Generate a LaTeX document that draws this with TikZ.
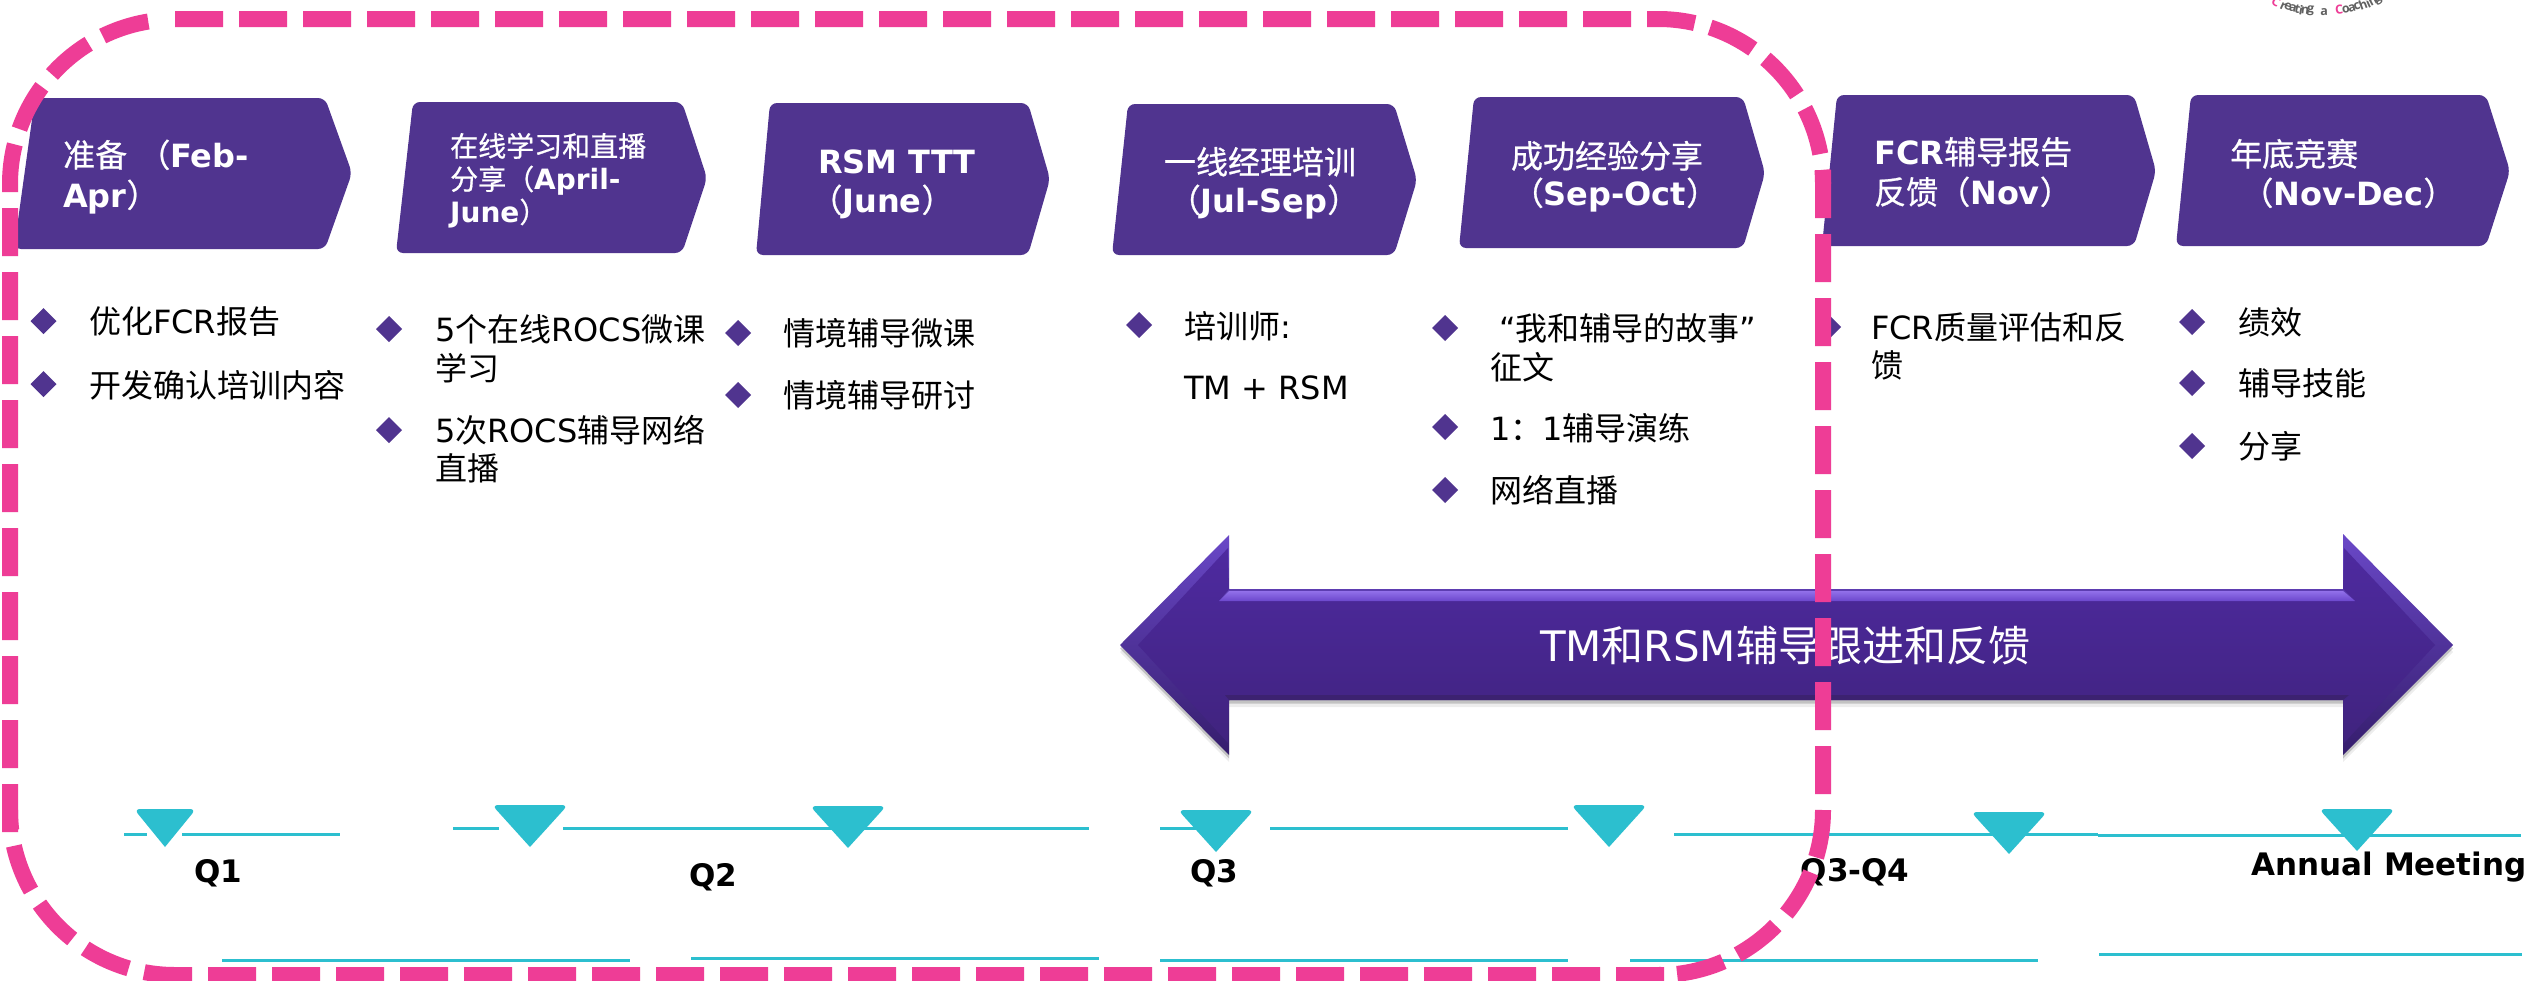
\documentclass[tikz,border=0pt]{standalone}
\usepackage{fontspec}
\setmainfont{DejaVu Sans}
\newfontfamily\cjk{Noto Sans CJK SC}
\newfontfamily\cjkhead[FakeBold=0.7]{Noto Sans CJK SC}
\newfontfamily\logofont{Open Sans}
\newcommand{\C}[1]{{\cjk\mdseries #1}}
\newcommand{\Hd}[1]{{\cjkhead\mdseries #1}}
\definecolor{boxpurple}{HTML}{50348F}
\definecolor{pinkline}{HTML}{EE3D96}
\definecolor{cyanmark}{HTML}{2CBFCF}
\definecolor{arrowtop}{HTML}{6A48C8}
\definecolor{arrowmid}{HTML}{5432A8}
\definecolor{arrowbot}{HTML}{351D6C}
\definecolor{arrowface}{HTML}{4E2AA0}
\definecolor{arrowfacem}{HTML}{4A2898}
\definecolor{arrowfaceb}{HTML}{40237E}
\definecolor{arrowhi}{HTML}{9270EA}
\definecolor{arrowhib}{HTML}{6B47CC}
\definecolor{arrowdark}{HTML}{3C2270}
\tikzset{
  boxshape/.style={fill=boxpurple,rounded corners=7pt},
  headbig/.style={inner sep=0,text=white,font=\bfseries\fontsize{32}{32}\selectfont,text height=28pt,text depth=4pt},
  headsmall/.style={inner sep=0,text=white,font=\bfseries\fontsize{28}{28}\selectfont,text height=24.6pt,text depth=3.4pt},
  bodytext/.style={inner sep=0,anchor=west,text=black,font=\fontsize{32}{32}\selectfont,text height=28pt,text depth=4pt},
  quarter/.style={inner sep=0,text=black,font=\bfseries\fontsize{31}{31}\selectfont,text height=27pt,text depth=4pt},
  bullet/.style={fill=boxpurple},
  tline/.style={draw=cyanmark,line width=3pt},
  tmark/.style={fill=cyanmark},
  pinkdash/.style={draw=pinkline,line width=16pt,dash pattern=on 48pt off 16pt},
  logoletter/.style={inner sep=0,font=\logofont\bfseries\fontsize{12.5}{12.5}\selectfont}
}
\newcommand{\dm}[2]{\fill[bullet] ({#1-13},#2) -- (#1,{#2-13}) -- ({#1+13},#2) -- (#1,{#2+13}) -- cycle;}
\newcommand{\tri}[4]{\fill[tmark] (#1,#3) [rounded corners=6pt] -- ({#1-#4},#2) -- ({#1+#4},#2) [sharp corners] -- cycle;}
\newcommand{\bigarrowpath}{(1120,645) -- (1229,535) -- (1229,589) -- (2343,589) -- (2343,534) -- (2453,645) -- (2343,755) -- (2343,700) -- (1229,700) -- (1229,755) -- cycle}
\begin{document}
\begin{tikzpicture}[x=1pt,y=-1pt]
\useasboundingbox (0,0) rectangle (2534,980);
\clip (0,0) rectangle (2534,980);
\fill[white] (0,0) rectangle (2534,980);

% logo fragment
\foreach \ch/\lx/\ly/\rot/\col [count=\n] in {
 C/2276/2/-32/pinkline, r/2283/6/-24/black!62, e/2288/7/-20/black!62, a/2293/8/-16/black!62, t/2297.5/9/-13/black!62, i/2301/10/-10/black!62, n/2305/10.5/-7/black!62, g/2310.5/11/-4/black!62,
 a/2324/12/0/black!62, C/2339/10/6/pinkline, o/2346/9.5/9/black!62, a/2352/8/13/black!62, c/2357/6.5/17/black!62, h/2363/5/21/black!62, i/2368/3.5/25/black!62, n/2373/1.5/29/black!62, g/2378/0/33/black!62}
  \node[logoletter,text=\col,rotate=\rot] (logo\n) at (\lx,\ly) {\ch};

% chevron boxes
\path[boxshape] (35,98) -- (325,98) -- (352,173) -- (325,249) -- (14,249) -- cycle;
\path[boxshape] (413,102) -- (682,102) -- (707,178) -- (682,253) -- (396,253) -- cycle;
\path[boxshape] (770,103) -- (1028,103) -- (1050,179) -- (1028,255) -- (756,255) -- cycle;
\path[boxshape] (1128,104) -- (1394,104) -- (1417,180) -- (1394,255) -- (1112,255) -- cycle;
\path[boxshape] (1474,97) -- (1743,97) -- (1765,173) -- (1743,248) -- (1459,248) -- cycle;
\path[boxshape] (1837,95) -- (2134,95) -- (2156,171) -- (2134,246) -- (1822,246) -- cycle;
\path[boxshape] (2191,95) -- (2486,95) -- (2510,171) -- (2486,246) -- (2176,246) -- cycle;

% box titles
\node[headbig,anchor=west] (b1a) at (63,155) {\Hd{准备} \Hd{（}Feb-};
\node[headbig,anchor=west] (b1b) at (63,195) {Apr\Hd{）}};
\node[headsmall,anchor=west] (b2a) at (450,146) {\Hd{在线学习和直播}};
\node[headsmall,anchor=west] (b2b) at (450,179) {\Hd{分享（}April-};
\node[headsmall,anchor=west] (b2c) at (450,212) {June\Hd{）}};
\node[headbig] (b3a) at (897,161) {RSM TTT};
\node[headbig] (b3b) at (882,200) {\Hd{（}June\Hd{）}};
\node[headbig] (b4a) at (1260,162) {\Hd{一线经理培训}};
\node[headbig] (b4b) at (1264,200) {\Hd{（}Jul-Sep\Hd{）}};
\node[headbig] (b5a) at (1607,156) {\Hd{成功经验分享}};
\node[headbig] (b5b) at (1615,193) {\Hd{（}Sep-Oct\Hd{）}};
\node[headbig,anchor=west] (b6a) at (1874,152) {FCR\Hd{辅导报告}};
\node[headbig,anchor=west] (b6b) at (1874,192) {\Hd{反馈（}Nov\Hd{）}};
\node[headbig,anchor=west] (b7a) at (2230,154) {\Hd{年底竞赛}};
\node[headbig,anchor=west] (b7b) at (2230,193) {\ \Hd{（}Nov-Dec\Hd{）}};

% bullets
\dm{43.5}{321} \dm{43.5}{384}
\dm{389}{329} \dm{389}{430}
\dm{738}{333} \dm{738}{395}
\dm{1139}{325}
\dm{1445}{328} \dm{1445}{427} \dm{1445}{490}
\dm{1828}{327}
\dm{2192}{322} \dm{2192}{383} \dm{2192}{446}

% bullet text
\node[bodytext] (t1) at (89,321) {\C{优化}FCR\C{报告}};
\node[bodytext] (t2) at (89,385) {\C{开发确认培训内容}};
\node[bodytext] (t3) at (435,329) {5\C{个在线}ROCS\C{微课}};
\node[bodytext] (t3b) at (435,368) {\C{学习}};
\node[bodytext] (t4) at (435,430) {5\C{次}ROCS\C{辅导网络}};
\node[bodytext] (t4b) at (435,468) {\C{直播}};
\node[bodytext] (t5) at (783,333) {\C{情境辅导微课}};
\node[bodytext] (t6) at (783,395) {\C{情境辅导研讨}};
\node[bodytext] (t7) at (1184,326) {\C{培训师}:};
\node[bodytext] (t7b) at (1184,387) {TM + RSM};
\node[bodytext] (t8) at (1499,328) {“\C{我和辅导的故事}”};
\node[bodytext] (t8b) at (1490,367) {\C{征文}};
\node[bodytext] (t9) at (1490,428) {1\C{：}1\C{辅导演练}};
\node[bodytext] (t10) at (1490,490) {\C{网络直播}};
\node[bodytext] (t11) at (1871,327) {FCR\C{质量评估和反}};
\node[bodytext] (t11b) at (1871,365) {\C{馈}};
\node[bodytext] (t12) at (2238,322) {\C{绩效}};
\node[bodytext] (t13) at (2238,383) {\C{辅导技能}};
\node[bodytext] (t14) at (2238,446) {\C{分享}};

% big double arrow
\fill[black,opacity=.07,yshift=-7pt] \bigarrowpath;
\fill[black,opacity=.18,yshift=-3.5pt] \bigarrowpath;
\shade[top color=arrowtop,middle color=arrowmid,bottom color=arrowbot] \bigarrowpath;
\shade[top color=arrowface,middle color=arrowfacem,bottom color=arrowfaceb] (1138,645) -- (1228,548) -- (1229,589) -- (1219,601) -- (2355,601) -- (2343,589) -- (2344,548) -- (2435,645) -- (2344,743) -- (2343,700) -- (2349,695) -- (1225,695) -- (1229,700) -- (1228,743) -- cycle;
\shade[top color=arrowhi,bottom color=arrowhib] (1229,591) -- (2343,591) -- (2355,601) -- (1219,601) -- cycle;
\fill[arrowdark] (1225,695) -- (2349,695) -- (2343,700) -- (1229,700) -- cycle;
\node[inner sep=0,text=white,font=\fontsize{42}{42}\selectfont,text height=36.8pt,text depth=5.2pt] (bigtext) at (1785,646) {TM\C{和}RSM\C{辅导跟进和反馈}};

% timeline rules
\draw[tline] (124,834) -- (147,834);
\draw[tline] (182,834) -- (340,834);
\draw[tline] (453,828) -- (499,828);
\draw[tline] (563,828) -- (1089,828);
\draw[tline] (1160,828) -- (1196,828);
\draw[tline] (1270,828) -- (1568,828);
\draw[tline] (1674,834) -- (2098,834);
\draw[tline] (2098,835) -- (2521,835);
\draw[tline] (222,960) -- (630,960);
\draw[tline] (691,958) -- (1099,958);
\draw[tline] (1160,960) -- (1568,960);
\draw[tline] (1630,960) -- (2038,960);
\draw[tline] (2099,954) -- (2522,954);

% markers
\tri{165}{809}{847}{31}
\tri{530}{805}{847}{38}
\tri{848}{806}{848}{38}
\tri{1216}{810}{852}{38}
\tri{1609}{805}{847}{38}
\tri{2009}{812}{854}{38}
\tri{2357}{809}{851}{38}

% quarter labels
\node[quarter] (q1) at (218,871) {Q1};
\node[quarter] (q2) at (713,875) {Q2};
\node[quarter] (q3) at (1214,871) {Q3};
\node[quarter] (q34) at (1855,870) {Q3-Q4};
\node[quarter] (am) at (2389,864) {Annual Meeting};

% pink dashed frame
\draw[pinkdash] (175,19) -- (1658,19) .. controls (1749,19) and (1823,93) .. (1823,184);
\draw[pinkdash] (1823,170) -- (1823,810) .. controls (1823,901) and (1749,975) .. (1658,975);
\draw[pinkdash] (1664,975) -- (175,975) .. controls (84,975) and (10,901) .. (10,810);
\draw[pinkdash] (10,832) -- (10,184) .. controls (10,99) and (75,28) .. (160,20);
\end{tikzpicture}
\end{document}
